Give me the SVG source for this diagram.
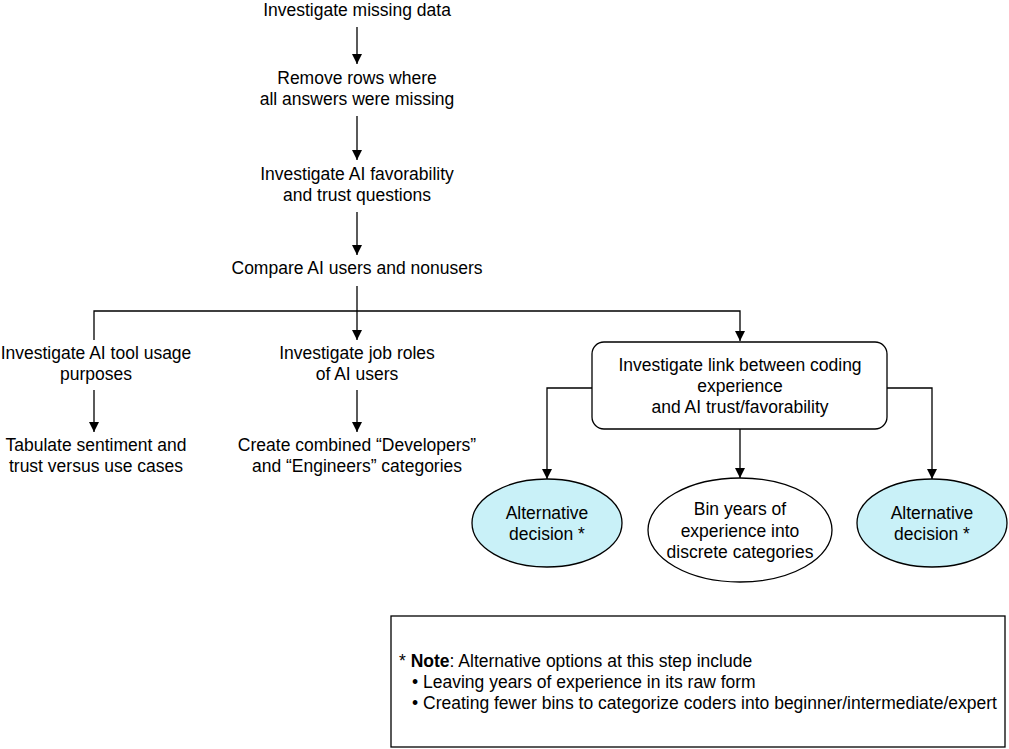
<svg xmlns="http://www.w3.org/2000/svg" width="1009" height="749" viewBox="0 0 1009 749">
<defs>
<marker id="ah" viewBox="0 0 10 10" refX="10" refY="5" markerWidth="10" markerHeight="10" markerUnits="userSpaceOnUse" orient="auto">
<path d="M0,0 L10,5 L0,10 z" fill="#000"/>
</marker>
<style>
text{font-family:"Liberation Sans",Arial,sans-serif;font-size:17.5px;fill:#000}
.c{text-anchor:middle}
.ln{fill:none;stroke:#000;stroke-width:1.3}
.alt{fill:#c9f1f8;stroke:#000;stroke-width:1.3}
.box{fill:#fff;stroke:#000;stroke-width:1.3}
</style>
</defs>
<rect width="1009" height="749" fill="#fff"/>
<g id="connectors">
<path class="ln" d="M357,27 V64" marker-end="url(#ah)"/>
<path class="ln" d="M357,116 V160" marker-end="url(#ah)"/>
<path class="ln" d="M357,212 V255" marker-end="url(#ah)"/>
<path class="ln" d="M357,286 V340" marker-end="url(#ah)"/>
<path class="ln" d="M94,340 V311 H740 V341" marker-end="url(#ah)"/>
<path class="ln" d="M94,390 V432" marker-end="url(#ah)"/>
<path class="ln" d="M357,390 V432" marker-end="url(#ah)"/>
<path class="ln" d="M592,388 H547 V479" marker-end="url(#ah)"/>
<path class="ln" d="M740,429 V478" marker-end="url(#ah)"/>
<path class="ln" d="M887,388 H932 V479" marker-end="url(#ah)"/>
</g>
<g id="n1"><text class="c" x="357" y="16">Investigate missing data</text></g>
<g id="n2"><text class="c" x="357" y="84">Remove rows where</text><text class="c" x="357" y="105">all answers were missing</text></g>
<g id="n3"><text class="c" x="357" y="180">Investigate AI favorability</text><text class="c" x="357" y="201">and trust questions</text></g>
<g id="n4"><text class="c" x="357" y="274">Compare AI users and nonusers</text></g>
<g id="n5"><text class="c" x="96" y="359">Investigate AI tool usage</text><text class="c" x="96" y="380">purposes</text></g>
<g id="n6"><text class="c" x="96" y="451">Tabulate sentiment and</text><text class="c" x="96" y="472">trust versus use cases</text></g>
<g id="n7"><text class="c" x="357" y="359">Investigate job roles</text><text class="c" x="357" y="380">of AI users</text></g>
<g id="n8"><text class="c" x="357" y="451">Create combined “Developers”</text><text class="c" x="357" y="472">and “Engineers” categories</text></g>
<g id="n9"><rect class="box" x="592" y="342" width="295" height="87" rx="12"/>
<text class="c" x="740" y="371">Investigate link between coding</text><text class="c" x="740" y="392">experience</text><text class="c" x="740" y="413">and AI trust/favorability</text></g>
<g id="n10"><ellipse class="alt" cx="547" cy="523" rx="75" ry="44"/>
<text class="c" x="547" y="519">Alternative</text><text class="c" x="547" y="540">decision *</text></g>
<g id="n11"><ellipse class="box" cx="740" cy="530" rx="92" ry="52"/>
<text class="c" x="740" y="515">Bin years of</text><text class="c" x="740" y="537">experience into</text><text class="c" x="740" y="558">discrete categories</text></g>
<g id="n12"><ellipse class="alt" cx="932" cy="523" rx="75" ry="44"/>
<text class="c" x="932" y="519">Alternative</text><text class="c" x="932" y="540">decision *</text></g>
<g id="note"><rect class="box" x="391" y="616" width="614" height="131"/>
<text x="399" y="667">* <tspan font-weight="bold">Note</tspan>: Alternative options at this step include</text>
<text x="412" y="688">• Leaving years of experience in its raw form</text>
<text x="412" y="709">• Creating fewer bins to categorize coders into beginner/intermediate/expert</text></g>
</svg>
